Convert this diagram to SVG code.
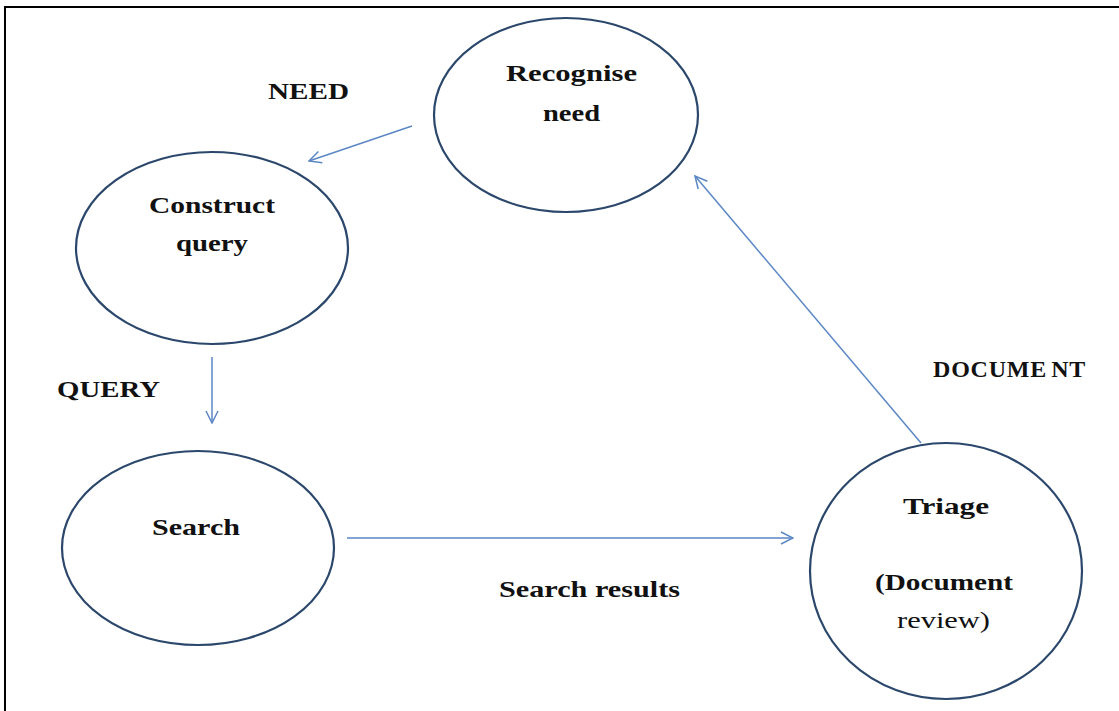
<svg xmlns="http://www.w3.org/2000/svg" width="1119" height="711" viewBox="0 0 1119 711">
  <style>
    .node ellipse { fill: #ffffff; stroke: #2b476b; stroke-width: 2.2; }
    .lbl { font-family: "Liberation Serif", "Times New Roman", serif; font-size: 24px; font-weight: bold; fill: #111111; }
    .reg { font-weight: normal; }
    .edge { stroke: #5b87c5; stroke-width: 1.5; fill: none; }
  </style>
  <defs>
    <marker id="open" viewBox="0 0 14 14" refX="13" refY="7" markerWidth="14" markerHeight="14" markerUnits="userSpaceOnUse" orient="auto">
      <path d="M1,1 L13,7 L1,13" fill="none" stroke="#5b87c5" stroke-width="1.5"/>
    </marker>
  </defs>

  <rect width="1119" height="711" fill="#ffffff"/>
  <!-- frame -->
  <path d="M5,711 L5,7 L1119,7" fill="none" stroke="#000000" stroke-width="2"/>

  <g id="connectors">
    <line class="edge" x1="412" y1="126" x2="309" y2="161" marker-end="url(#open)"/>
    <line class="edge" x1="212" y1="357" x2="212" y2="423" marker-end="url(#open)"/>
    <line class="edge" x1="347" y1="538" x2="793" y2="538" marker-end="url(#open)"/>
    <line class="edge" x1="921" y1="443" x2="695" y2="176" marker-end="url(#open)"/>
    <text class="lbl" x="268" y="99" textLength="81" lengthAdjust="spacingAndGlyphs">NEED</text>
    <text class="lbl" x="57" y="397" textLength="103" lengthAdjust="spacingAndGlyphs">QUERY</text>
    <text class="lbl" x="499" y="597" textLength="181" lengthAdjust="spacingAndGlyphs">Search results</text>
    <text class="lbl" x="933" y="377" font-size="22" letter-spacing="0.8">DOCUME<tspan dx="4">NT</tspan></text>
  </g>

  <g id="recognise-need" class="node">
    <ellipse cx="566" cy="115" rx="132" ry="97"/>
    <text class="lbl" x="506" y="81" textLength="131" lengthAdjust="spacingAndGlyphs">Recognise</text>
    <text class="lbl" x="543" y="121" textLength="57" lengthAdjust="spacingAndGlyphs">need</text>
  </g>

  <g id="construct-query" class="node">
    <ellipse cx="212" cy="248" rx="136" ry="96"/>
    <text class="lbl" x="149" y="213" textLength="126" lengthAdjust="spacingAndGlyphs">Construct</text>
    <text class="lbl" x="176" y="251" textLength="72" lengthAdjust="spacingAndGlyphs">query</text>
  </g>

  <g id="search" class="node">
    <ellipse cx="198" cy="548" rx="136" ry="97"/>
    <text class="lbl" x="152" y="535" textLength="88" lengthAdjust="spacingAndGlyphs">Search</text>
  </g>

  <g id="triage" class="node">
    <ellipse cx="946" cy="571" rx="136" ry="128"/>
    <text class="lbl" x="903" y="514" textLength="86" lengthAdjust="spacingAndGlyphs">Triage</text>
    <text class="lbl" x="875" y="590" textLength="138" lengthAdjust="spacingAndGlyphs">(Document</text>
    <text class="lbl reg" x="897" y="628" textLength="93" lengthAdjust="spacingAndGlyphs">review)</text>
  </g>
</svg>
